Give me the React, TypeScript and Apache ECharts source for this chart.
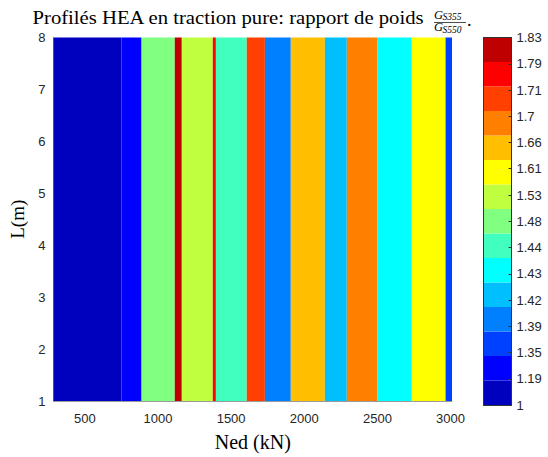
import React, { useEffect, useRef } from "react";
import * as echarts from "echarts";

// Colour levels (weight ratio G_S355 / G_S550)
const levelLabels = ["1", "1.19", "1.35", "1.39", "1.42", "1.43", "1.44", "1.48", "1.53", "1.61", "1.66", "1.7", "1.71", "1.79", "1.83"];
const levelColors = ["#0000BF", "#0000FF", "#0040FF", "#0080FF", "#00BFFF", "#00FFFF", "#40FFBF", "#80FF80", "#BFFF40", "#FFFF00", "#FFBF00", "#FF8000", "#FF4000", "#FF0000", "#BF0000"];

// Vertical bands of the filled contour: Ned start / end (kN) and level index
const stripStart = [286, 751, 888, 1115, 1163, 1375, 1396, 1607, 1731, 1908, 2141, 2291, 2501, 2735, 2966];
const stripEnd = [751, 888, 1115, 1163, 1375, 1396, 1607, 1731, 1908, 2141, 2291, 2501, 2735, 2966, 3010];
const stripLevel = [0, 1, 7, 14, 8, 13, 6, 12, 3, 10, 4, 11, 5, 9, 2];

const lMin = 1;
const lMax = 8;
const nedMin = 286;
const nedMax = 3010;
const xTicks = [500, 1000, 1500, 2000, 2500, 3000];

const SANS = "Liberation Sans";
const SERIF = "Liberation Serif";

export default function App() {
  const ref = useRef<HTMLDivElement>(null);
  useEffect(() => {
    if (!ref.current) return;
    const chart = echarts.init(ref.current, undefined, { renderer: "svg" });

    const stripData = stripStart.map((s, i) => [s, stripEnd[i], lMin, lMax, stripLevel[i]]);
    const barData = levelColors.map((_, i) => [0, 1, i, i + 1]);

    const option: any = {
      animation: false,
      backgroundColor: "#fff",
      grid: [
        { left: 53.5, top: 37.5, width: 398.5, height: 367.5, containLabel: false },
        { left: 483.5, top: 37.5, width: 28, height: 367.5, containLabel: false },
      ],
      xAxis: [
        {
          gridIndex: 0,
          type: "value",
          min: nedMin,
          max: nedMax,
          name: "Ned (kN)",
          nameLocation: "middle",
          nameGap: 31,
          nameTextStyle: { fontFamily: SERIF, fontSize: 20, color: "#000" },
          axisLine: { show: true, onZero: false, lineStyle: { color: "#9a9a9a", width: 1 } },
          axisTick: { show: false },
          splitLine: { show: false },
          axisLabel: {
            customValues: xTicks,
            fontFamily: SANS,
            fontSize: 13,
            color: "#262626",
            margin: 11,
            formatter: (v: number) => String(v),
          },
        },
        {
          gridIndex: 1,
          type: "value",
          min: 0,
          max: 1,
          show: true,
          axisLine: { show: true, onZero: false, lineStyle: { color: "#333", width: 1 } },
          axisTick: { show: false },
          axisLabel: { show: false },
          splitLine: { show: false },
          z: 10,
        },
        {
          gridIndex: 1,
          type: "value",
          min: 0,
          max: 1,
          position: "top",
          axisLine: { show: true, onZero: false, lineStyle: { color: "#333", width: 1 } },
          axisTick: { show: false },
          axisLabel: { show: false },
          splitLine: { show: false },
          z: 10,
        },
      ],
      yAxis: [
        {
          gridIndex: 0,
          type: "value",
          min: lMin,
          max: lMax,
          interval: 1,
          name: "L(m)",
          nameLocation: "middle",
          nameGap: 26,
          nameTextStyle: { fontFamily: SERIF, fontSize: 19, color: "#000" },
          axisLine: { show: true, onZero: false, lineStyle: { color: "#9a9a9a", width: 1 } },
          axisTick: { show: false },
          splitLine: { show: false },
          axisLabel: { fontFamily: SANS, fontSize: 13, color: "#262626", margin: 8 },
        },
        {
          gridIndex: 1,
          type: "value",
          min: 0,
          max: levelColors.length,
          position: "left",
          axisLine: { show: true, onZero: false, lineStyle: { color: "#333", width: 1 } },
          axisTick: { show: false },
          axisLabel: { show: false },
          splitLine: { show: false },
          z: 10,
        },
        {
          gridIndex: 1,
          type: "value",
          min: 0,
          max: levelLabels.length - 1,
          interval: 1,
          position: "right",
          axisLine: { show: true, onZero: false, lineStyle: { color: "#333", width: 1 } },
          axisTick: { show: true, inside: true, length: 3, lineStyle: { color: "#333" } },
          axisLabel: {
            fontFamily: SANS,
            fontSize: 13,
            color: "#262626",
            margin: 5,
            formatter: (v: number) => levelLabels[Math.round(v)],
          },
          splitLine: { show: false },
          z: 10,
        },
      ],
      series: [
        {
          type: "custom",
          xAxisIndex: 0,
          yAxisIndex: 0,
          data: stripData,
          encode: { x: [0, 1], y: [2, 3] },
          z: 2,
          renderItem: (params: any, api: any) => {
            const p0 = api.coord([api.value(0), api.value(3)]);
            const p1 = api.coord([api.value(1), api.value(2)]);
            return {
              type: "rect",
              shape: { x: p0[0], y: p0[1], width: p1[0] - p0[0], height: p1[1] - p0[1] },
              style: { fill: levelColors[api.value(4)] },
            };
          },
        },
        {
          type: "custom",
          xAxisIndex: 1,
          yAxisIndex: 1,
          data: barData,
          encode: { x: [0, 1], y: [2, 3] },
          z: 2,
          renderItem: (params: any, api: any) => {
            const p0 = api.coord([api.value(0), api.value(3)]);
            const p1 = api.coord([api.value(1), api.value(2)]);
            return {
              type: "rect",
              shape: { x: p0[0], y: p0[1], width: p1[0] - p0[0], height: p1[1] - p0[1] },
              style: { fill: levelColors[params.dataIndex] },
            };
          },
        },
      ],
      graphic: [
        {
          type: "text",
          x: 32.5,
          y: 27,
          scaleX: 1.15,
          style: {
            text: "Profilés HEA en traction pure: rapport de poids",
            fontFamily: SERIF,
            fontSize: 18,
            fill: "#000",
            textAlign: "left",
            textVerticalAlign: "bottom",
          },
        },
        {
          type: "text",
          x: 434,
          y: 21,
          style: { text: "G", fontFamily: SERIF, fontStyle: "italic", fontSize: 12.5, fill: "#000", textVerticalAlign: "bottom" },
        },
        {
          type: "text",
          x: 442.5,
          y: 22,
          style: { text: "S355", fontFamily: SERIF, fontStyle: "italic", fontSize: 9.5, fill: "#000", textVerticalAlign: "bottom" },
        },
        {
          type: "line",
          shape: { x1: 434, y1: 22.5, x2: 466, y2: 22.5 },
          style: { stroke: "#000", lineWidth: 0.7 },
        },
        {
          type: "text",
          x: 434,
          y: 33.5,
          style: { text: "G", fontFamily: SERIF, fontStyle: "italic", fontSize: 12.5, fill: "#000", textVerticalAlign: "bottom" },
        },
        {
          type: "text",
          x: 442.5,
          y: 35,
          style: { text: "S550", fontFamily: SERIF, fontStyle: "italic", fontSize: 9.5, fill: "#000", textVerticalAlign: "bottom" },
        },
        {
          type: "text",
          x: 467,
          y: 29,
          style: { text: ".", fontFamily: SERIF, fontSize: 18, fill: "#000", textVerticalAlign: "bottom" },
        },
      ],
    };

    chart.setOption(option);
    return () => chart.dispose();
  }, []);

  return <div ref={ref} style={{ position: "fixed", left: 0, top: 0, width: 548, height: 457 }} />;
}
